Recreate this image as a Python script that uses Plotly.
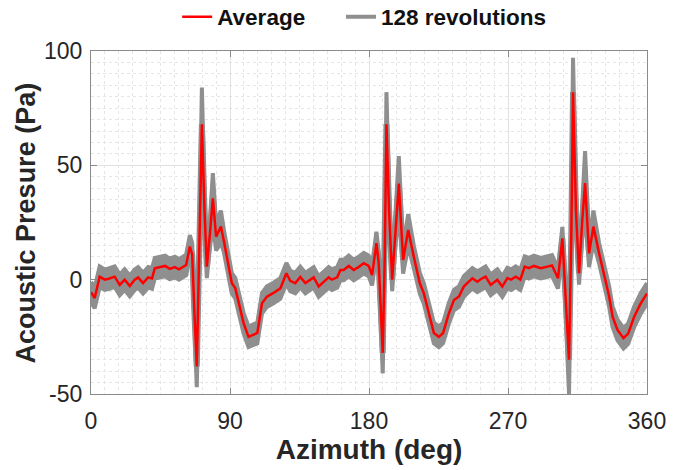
import numpy as np
import plotly.graph_objects as go

# Azimuth (deg)
azimuth = [
    0, 2.4, 5.6, 8.9, 12, 15.3, 18.6, 21.8, 25.1, 28.3,
    30.5, 33.7, 37, 39.5, 41.3, 44.6, 48, 51, 54.3, 57,
    59.6, 61.6, 64, 65.5, 67, 68.5, 70, 71.8, 73.5, 75,
    77, 78.9, 81, 84.1, 86, 88, 91.2, 93.4, 95.3, 97,
    98.8, 102, 105.3, 107.7, 110.7, 113.9, 118.2, 122.6, 126.5, 129,
    132.3, 135.5, 138.8, 142, 144.2, 147.4, 150.7, 153.9, 156, 159.4,
    161.5, 163.6, 166.9, 170.1, 173.4, 176.6, 179.8, 182, 184.8, 186.3,
    188.9, 190.2, 191.3, 193, 195, 197, 199.3, 202.1, 205.4, 209,
    212.9, 215.5, 218.8, 222, 225.2, 228, 231.7, 235, 238.2, 241.4,
    243.6, 246.9, 250.1, 253, 255.5, 258.8, 263.1, 266.3, 269.6, 272,
    275, 278, 280.8, 283.5, 286.8, 291.2, 295.5, 298.5, 302.4, 305.2,
    307, 309.5, 311, 312.1, 314, 316, 318, 319.9, 322.5, 325.3,
    329, 332.2, 335.5, 337.7, 340.9, 344.8, 347.8, 351.7, 356, 360,
]

# Average acoustic pressure (Pa)
average = [
    -5.5, -8, 1.3, 0, 0.5, 1.3, -2.3, 0, -2.8, 0,
    1, -1.5, 1, 0.5, 5, 5.5, 6, 4.7, 5.5, 4.5,
    5.5, 6.4, 14.5, 11, -15, -38, 10, 68, 30, 5.7,
    20, 35.6, 18.8, 23.2, 17, 10, -1.6, -3.7, -8.9, -14,
    -19, -25, -24, -23.3, -10.3, -7.4, -5.8, -3.8, 2.8, -0.5,
    -1.5, 1.2, -1.5, 0, 1, -3, -1, 1, 0, 1,
    4.2, 4.2, 6, 4.2, 5.6, 7.2, 6, 2, 16, 7,
    -32, 10, 68, 30, 0, 20, 42, 8.6, 21.7, 10,
    -1.6, -6, -14.7, -23.3, -25, -23.3, -14.7, -8.9, -7.4, -3,
    -1.5, 0.6, -0.9, 0.5, 1.3, -2.3, 0, -3, 0.7, 0,
    1.3, 0, 5.7, 5, 6, 5, 5.7, 6.2, 0.6, 18.1,
    -4, -35, 20, 82, 30, 2.8, 25, 42.2, 11.5, 23.2,
    11.5, 2.8, -7.4, -16.2, -22, -25.6, -23.6, -16.2, -10.3, -6,
]

# Half-width of the envelope of the 128 revolutions (Pa)
spread = [
    4.5, 4.5, 4.5, 4.5, 4.5, 4.5, 4.5, 4.5, 4.5, 4.5,
    4.5, 4.5, 4.5, 4.5, 4.5, 4.5, 4.5, 4.5, 4.5, 4.5,
    4.5, 4.5, 5, 5, 6, 9, 6, 16, 8, 5,
    6, 11, 6, 7, 5, 4.5, 4.5, 4.5, 4.5, 4.5,
    4.5, 4.5, 4.5, 4.5, 4.5, 4.5, 4.5, 4.5, 4.5, 4.5,
    4.5, 4.5, 4.5, 4.5, 4.5, 4.5, 4.5, 4.5, 4.5, 4.5,
    4.5, 4.5, 4.5, 4.5, 4.5, 4.5, 4.5, 4.5, 5, 5,
    9, 6, 14, 8, 5, 6, 12, 6, 7, 5,
    4.5, 4.5, 4.5, 4.5, 4.5, 4.5, 4.5, 4.5, 4.5, 4.5,
    4.5, 4.5, 4.5, 4.5, 4.5, 4.5, 4.5, 4.5, 4.5, 4.5,
    4.5, 4.5, 4.5, 4.5, 4.5, 4.5, 4.5, 4.5, 4.5, 5,
    6, 15, 8, 15, 8, 5, 7, 14, 6, 7,
    4.5, 4.5, 4.5, 4.5, 4.5, 4.5, 4.5, 4.5, 4.5, 4.5,
]

x_ticks = [0, 90, 180, 270, 360]
y_ticks = [-50, 0, 50, 100]

az = np.array(azimuth, dtype=float)
avg = np.array(average, dtype=float)
sp = np.array(spread, dtype=float)
upper = avg + sp
lower = avg - sp

GRAY = "#8f8f8f"
RED = "#ff0000"
TXT = "#262626"
FONT = "Liberation Sans, Arial, sans-serif"

fig = go.Figure()
# envelope of the 128 revolutions
fig.add_trace(go.Scatter(x=az, y=lower, mode="lines", line=dict(color=GRAY, width=4),
                         name="128 revolutions", showlegend=True, legend="legend2",
                         hoverinfo="skip"))
fig.add_trace(go.Scatter(x=az, y=upper, mode="lines", line=dict(color=GRAY, width=4),
                         fill="tonexty", fillcolor=GRAY, showlegend=False, hoverinfo="skip"))
fig.add_trace(go.Scatter(x=az, y=avg, mode="lines", line=dict(color=GRAY, width=6),
                         showlegend=False, hoverinfo="skip"))
# average curve
fig.add_trace(go.Scatter(x=az, y=avg, mode="lines", line=dict(color=RED, width=2.5),
                         name="Average", showlegend=True, legend="legend"))

axis_common = dict(
    showline=True, linecolor="#8a8a8a", linewidth=1.2, mirror="ticks",
    ticks="inside", ticklen=6, tickcolor="#8a8a8a",
    showgrid=True, gridcolor="#e2e2e2", gridwidth=1,
    zeroline=False,
    tickfont=dict(family=FONT, size=23, color=TXT),
)

fig.update_xaxes(
    range=[0, 360], tickvals=x_ticks, ticktext=[str(v) for v in x_ticks],
    minor=dict(dtick=9, tick0=0, showgrid=True, gridcolor="#e6e6e6", griddash="dot", ticks=""),
    title=dict(text="Azimuth (deg)", font=dict(family=FONT, size=28, color=TXT, weight="bold"), standoff=5),
    ticklabelstandoff=6,
    **axis_common,
)
fig.update_yaxes(
    range=[-50, 100], tickvals=y_ticks, ticktext=[str(v) for v in y_ticks],
    minor=dict(dtick=5, tick0=0, showgrid=True, gridcolor="#e6e6e6", griddash="dot", ticks=""),
    ticklabelstandoff=3,
    **axis_common,
)

fig.add_annotation(
    text="Acoustic Presure (Pa)", textangle=-90, showarrow=False,
    xref="paper", yref="paper", x=-0.117, y=0.5, xanchor="center", yanchor="middle",
    font=dict(family=FONT, size=27, color=TXT, weight="bold"),
)

legend_font = dict(family=FONT, size=22.5, color="#111111", weight="bold")
fig.update_layout(
    width=680, height=470,
    margin=dict(l=91, r=33, t=51, b=76, autoexpand=False),
    paper_bgcolor="white", plot_bgcolor="white",
    showlegend=True,
    legend=dict(orientation="h", x=0.155, xanchor="left", y=1.099, yanchor="middle",
                font=legend_font, bgcolor="rgba(0,0,0,0)"),
    legend2=dict(orientation="h", x=0.4496, xanchor="left", y=1.099, yanchor="middle",
                 font=legend_font, bgcolor="rgba(0,0,0,0)"),
)

fig.write_html("out.html")
